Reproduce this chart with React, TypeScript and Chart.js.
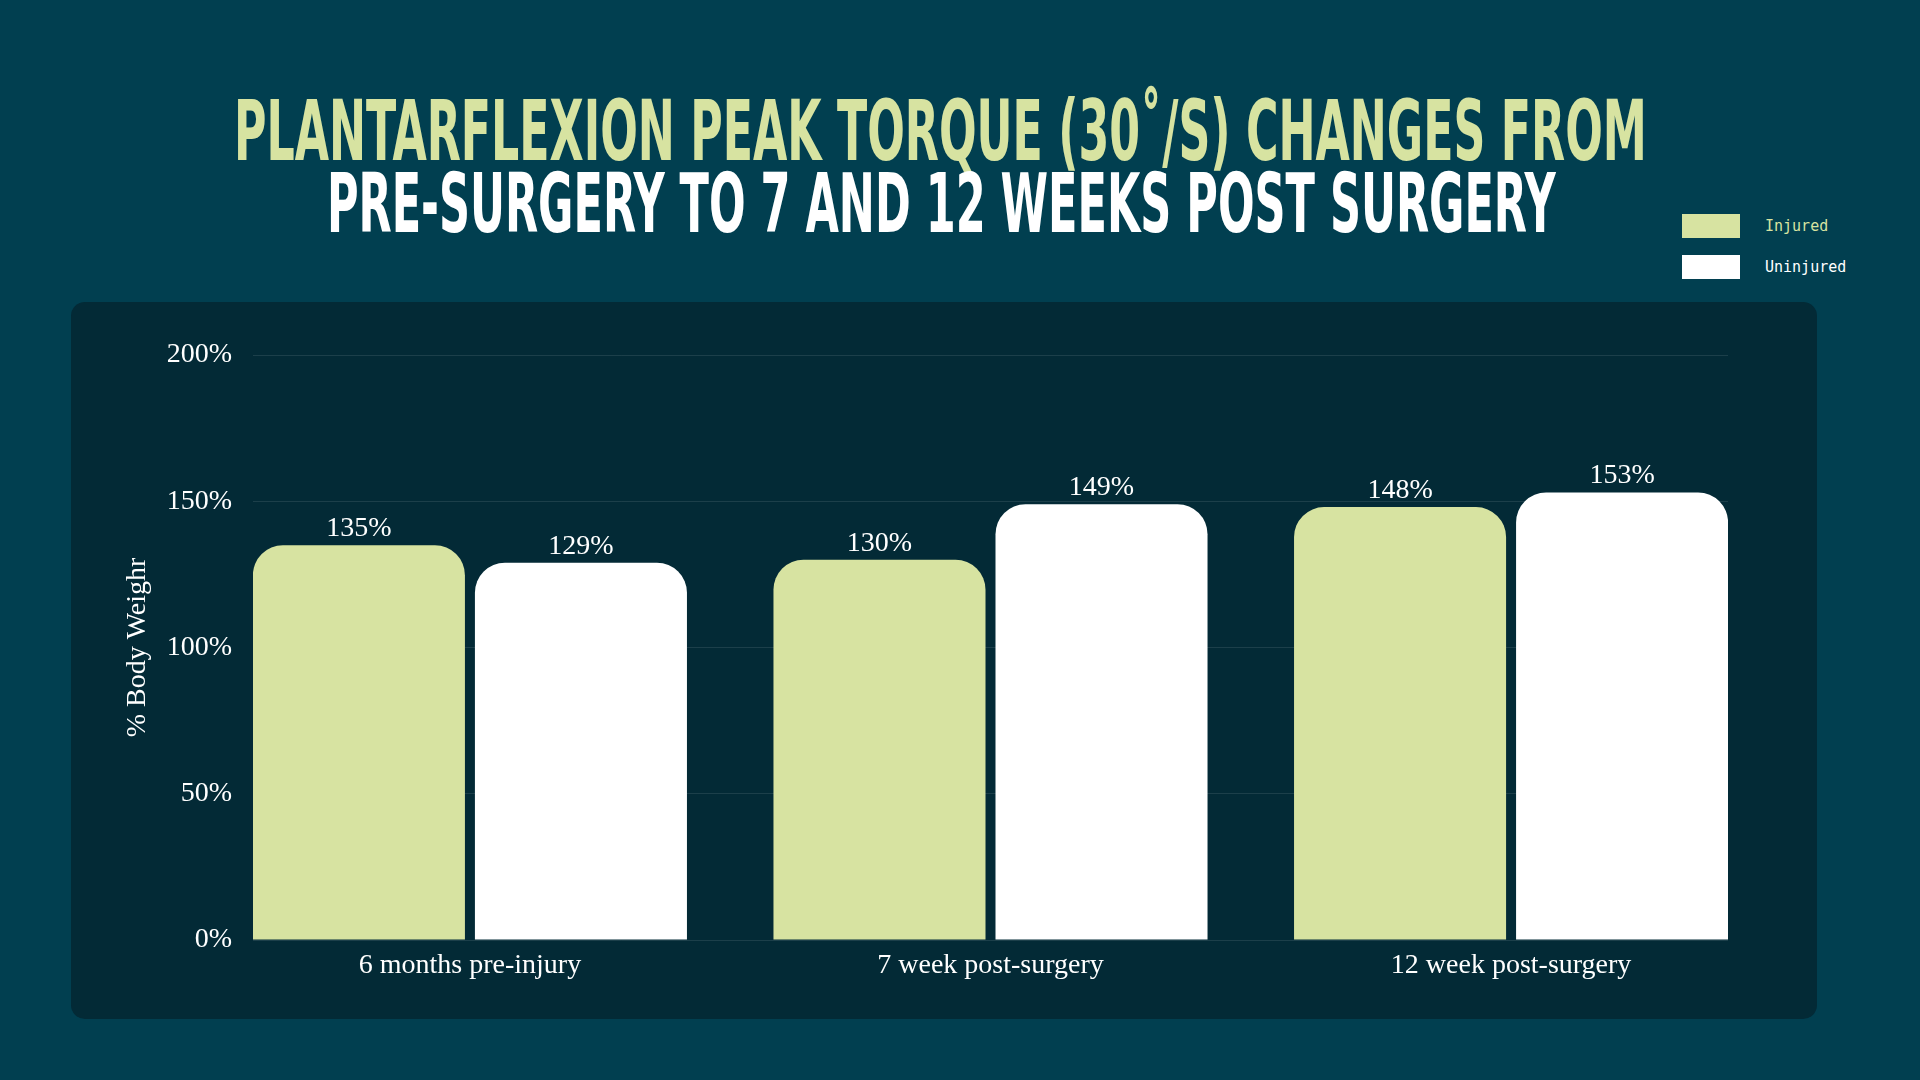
import React, { useEffect, useLayoutEffect, useRef } from "react";
import { Chart, registerables } from "chart.js";

Chart.register(...registerables);

const categories = ["6 months pre-injury", "7 week post-surgery", "12 week post-surgery"];
const injured = [135, 130, 148];
const uninjured = [129, 149, 153];
const seriesNames = ["Injured", "Uninjured"];
const seriesColors = ["#d7e3a1", "#ffffff"];
const legendTextColors = ["#d7e3a1", "#ffffff"];
const yTicks = [0, 50, 100, 150, 200];
const titleLine1 = "PLANTARFLEXION PEAK TORQUE (30˚/S) CHANGES FROM";
const titleLine2 = "PRE-SURGERY TO 7 AND 12 WEEKS POST SURGERY";
const yTitle = "% Body Weighr";

const SERIF = "'Liberation Serif', 'Times New Roman', serif";
const MONO = "'DejaVu Sans Mono', 'Liberation Mono', monospace";
const COND = "'DejaVu Sans Condensed', 'DejaVu Sans', sans-serif";

function FitLine(props: { text: string; top: number; size: number; width: number; center: number; color: string }) {
  const ref = useRef<HTMLSpanElement | null>(null);
  useLayoutEffect(() => {
    const el = ref.current;
    if (!el) return;
    el.style.transform = "none";
    const w = el.offsetWidth;
    if (w > 0) el.style.transform = `scaleX(${props.width / w})`;
  }, [props.text, props.width]);
  return (
    <div
      style={{
        position: "absolute",
        left: props.center - 2500,
        top: props.top,
        width: 5000,
        textAlign: "center",
        whiteSpace: "nowrap",
        lineHeight: `${props.size}px`,
        height: props.size,
      }}
    >
      <span
        ref={ref}
        style={{
          display: "inline-block",
          fontFamily: COND,
          fontWeight: 700,
          fontSize: props.size,
          color: props.color,
          transformOrigin: "center center",
          letterSpacing: 0,
        }}
      >
        {props.text}
      </span>
    </div>
  );
}

const valueLabels = {
  id: "valueLabels",
  afterDatasetsDraw(chart: any) {
    const ctx = chart.ctx;
    ctx.save();
    ctx.font = `28px ${SERIF}`;
    ctx.fillStyle = "#ffffff";
    ctx.textAlign = "center";
    ctx.textBaseline = "alphabetic";
    chart.data.datasets.forEach((ds: any, di: number) => {
      const meta = chart.getDatasetMeta(di);
      meta.data.forEach((el: any, i: number) => {
        const v = ds.data[i].y;
        ctx.fillText(`${v}%`, el.x, el.y - 9);
      });
    });
    ctx.restore();
  },
};

export default function App() {
  const canvasRef = useRef<HTMLCanvasElement | null>(null);

  useEffect(() => {
    document.body.style.margin = "0";
    document.body.style.background = "#013f50";
    const canvas = canvasRef.current;
    if (!canvas) return;
    const series = [injured, uninjured];
    const chart = new Chart(canvas, {
      type: "bar",
      data: {
        datasets: series.map((vals, si) => ({
          label: seriesNames[si],
          data: vals.map((v, i) => ({ x: i, y: v })),
          backgroundColor: seriesColors[si],
          borderWidth: 0,
          borderRadius: { topLeft: 30, topRight: 30, bottomLeft: 0, bottomRight: 0 },
          borderSkipped: false,
          categoryPercentage: 0.853,
          barPercentage: 0.955,
        })),
      },
      options: {
        animation: false,
        responsive: true,
        maintainAspectRatio: false,
        devicePixelRatio: 1,
        events: [],
        layout: { padding: { left: 0, right: 192, top: 355, bottom: 0 } },
        plugins: {
          legend: { display: false },
          tooltip: { enabled: false },
          title: { display: false },
        },
        scales: {
          x: {
            type: "linear",
            offset: false,
            min: -0.4167,
            max: 2.4167,
            afterBuildTicks: (s: any) => {
              s.ticks = categories.map((_, i) => ({ value: i }));
            },
            afterFit: (s: any) => {
              s.height = 140;
            },
            ticks: {
              callback: (v: any) => categories[v] ?? "",
              color: "#ffffff",
              font: { family: SERIF, size: 28 },
              padding: 1,
              maxRotation: 0,
              autoSkip: false,
            },
            grid: { display: false, offset: false },
            border: { display: false },
          },
          y: {
            min: 0,
            max: 200,
            afterBuildTicks: (s: any) => {
              s.ticks = yTicks.map((v) => ({ value: v }));
            },
            afterFit: (s: any) => {
              s.width = 253;
            },
            ticks: {
              callback: (v: any) => `${v}%`,
              color: "#ffffff",
              font: { family: SERIF, size: 28 },
              padding: 21,
            },
            grid: { color: "rgba(255,255,255,0.1)", drawTicks: false, lineWidth: 1 },
            border: { display: false },
            title: {
              display: true,
              text: yTitle,
              color: "#ffffff",
              font: { family: SERIF, size: 28 },
              padding: { top: 121, bottom: 0 },
            },
          },
        },
      },
      plugins: [valueLabels],
    });
    return () => chart.destroy();
  }, []);

  return (
    <div style={{ position: "absolute", left: 0, top: 0, width: 1920, height: 1080, background: "#013f50", overflow: "hidden" }}>
      <FitLine text={titleLine1} top={89} size={84} width={1413} center={940} color="#d7e3a1" />
      <FitLine text={titleLine2} top={163} size={82} width={1229} center={941} color="#ffffff" />
      {seriesNames.map((name, i) => (
        <div key={name}>
          <div
            style={{
              position: "absolute",
              left: 1682,
              top: 214 + i * 41,
              width: 58,
              height: 24,
              background: seriesColors[i],
            }}
          />
          <div
            style={{
              position: "absolute",
              left: 1765,
              top: 214 + i * 41,
              height: 24,
              lineHeight: "24px",
              fontFamily: MONO,
              fontSize: 15,
              color: legendTextColors[i],
              whiteSpace: "nowrap",
            }}
          >
            {name}
          </div>
        </div>
      ))}
      <div
        style={{
          position: "absolute",
          left: 71,
          top: 302,
          width: 1746,
          height: 717,
          borderRadius: 14,
          background: "#032a36",
        }}
      />
      <div style={{ position: "absolute", left: 0, top: 0, width: 1920, height: 1080 }}>
        <canvas ref={canvasRef} />
      </div>
    </div>
  );
}
